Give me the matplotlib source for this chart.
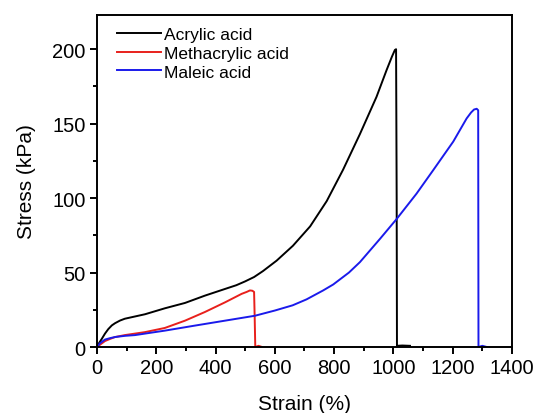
import numpy as np
import matplotlib.pyplot as plt
from matplotlib.ticker import MultipleLocator

plt.rcParams['font.family'] = ['Liberation Sans', 'DejaVu Sans']

# stress-strain curves (strain in %, stress in kPa)
acrylic_strain = [0, 8, 16, 27, 38, 50, 61, 78, 94, 128, 162, 229, 297, 364, 432, 470, 499,
                  530, 560, 606, 661, 719, 775, 830, 887, 943, 977, 995, 1005, 1009,
                  1011, 1012, 1030, 1056]
acrylic_stress = [0, 3, 5.4, 9, 12, 14.5, 16, 17.8, 19, 20.5, 22, 26, 29.6, 34.5, 39, 41.5, 44,
                  47, 51, 58, 68, 81, 98, 119, 143, 168, 186, 195, 199.5, 200,
                  100, 0.8, 1, 0.8]

methacrylic_strain = [0, 10, 27, 45, 61, 94, 128, 162, 229, 297, 364, 432, 488, 505, 516,
                      524, 530, 532, 534, 545, 557]
methacrylic_stress = [0, 1.5, 4, 5.5, 6.7, 8, 9, 10, 12.8, 17.7, 23.5, 30, 35.7, 37, 38,
                      37.8, 37, 20, 0, 0.8, 0]

maleic_strain = [0, 10, 27, 45, 61, 94, 128, 229, 331, 432, 533, 600, 660, 707, 763, 797,
                 850, 887, 955, 1011, 1078, 1134, 1202, 1247, 1262, 1272, 1281, 1286,
                 1287, 1300, 1315]
maleic_stress = [0, 2.5, 5, 6, 6.7, 7.5, 8, 11, 14.4, 17.7, 21, 24.5, 28, 32, 38, 42,
                 50, 57, 72.7, 86, 103, 118.7, 138, 153.5, 157.5, 159.5, 160, 159,
                 0, 0.8, 0]

fig = plt.figure(figsize=(5.37, 4.14), dpi=100)
ax = fig.add_axes([0.1806, 0.1594, 0.7728, 0.802])

ax.plot(acrylic_strain, acrylic_stress, color='black', lw=1.4, label='Acrylic acid')
ax.plot(methacrylic_strain, methacrylic_stress, color='#e8201c', lw=1.4, label='Methacrylic acid')
ax.plot(maleic_strain, maleic_stress, color='#1a1aeb', lw=1.4, label='Maleic acid')

ax.set_xlim(0, 1400)
ax.set_ylim(0, 223)
ax.xaxis.set_major_locator(MultipleLocator(200))
ax.xaxis.set_minor_locator(MultipleLocator(100))
ax.yaxis.set_major_locator(MultipleLocator(50))
ax.yaxis.set_minor_locator(MultipleLocator(25))
ax.tick_params(which='both', direction='out', width=1.4, labelsize=14.5, top=False, right=False)
ax.tick_params(which='major', length=5, pad=3)
ax.tick_params(which='minor', length=3)
for s in ax.spines.values():
    s.set_linewidth(1.4)

ax.set_xlabel('Strain (%)', fontsize=15, labelpad=12)
ax.set_ylabel('Stress (kPa)', fontsize=15, labelpad=12)

ax.legend(loc='upper left', frameon=False, fontsize=12.5, handlelength=2.5,
          handletextpad=0.2, labelspacing=0.2, borderaxespad=0.3,
          bbox_to_anchor=(0.02, 1.0))

fig.savefig('out.png', dpi=100)
